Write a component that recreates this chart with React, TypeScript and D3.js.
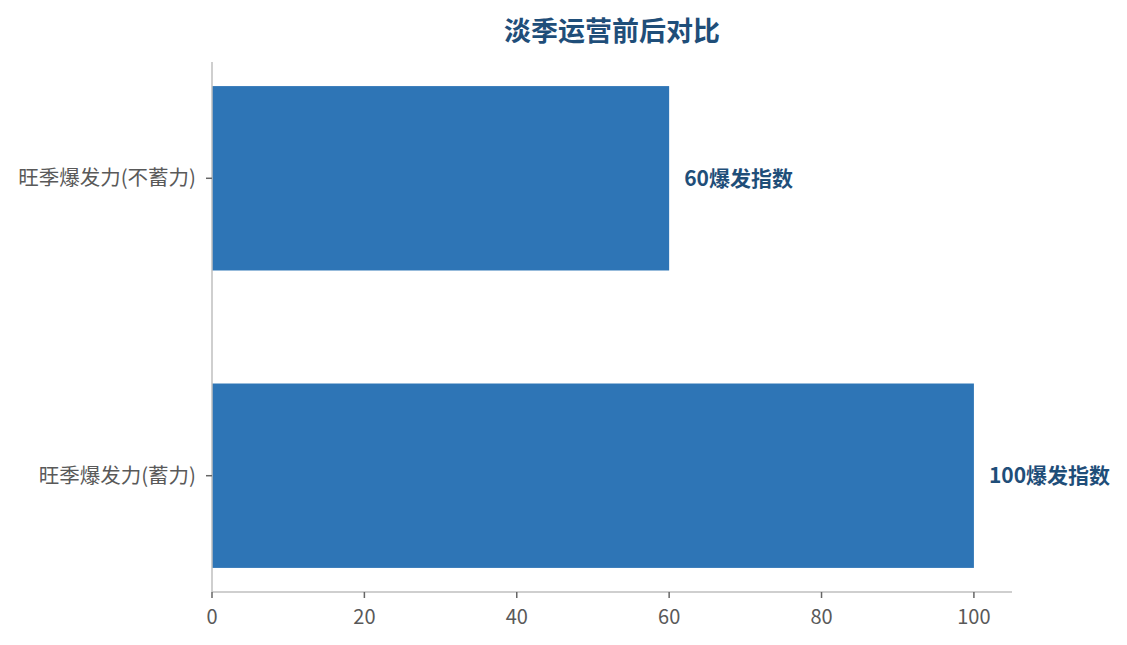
import React from 'react';
import * as d3 from 'd3';

const categories = ['旺季爆发力(不蓄力)', '旺季爆发力(蓄力)'];
const values = [60, 100];
const valueSuffix = '爆发指数';
const xTicks = [0, 20, 40, 60, 80, 100];
const title = '淡季运营前后对比';

const W = 1127;
const H = 645;
const margin = { top: 62, right: 115, bottom: 53, left: 212 };
const FONT = '"Noto Sans CJK SC", "Noto Sans", sans-serif';

const App: React.FC = () => {
  const innerW = W - margin.left - margin.right;
  const innerH = H - margin.top - margin.bottom;

  const x = d3.scaleLinear().domain([0, 105]).range([0, innerW]);
  const y = d3
    .scaleBand<string>()
    .domain(categories)
    .range([0, innerH])
    .paddingInner(0.38)
    .paddingOuter(0.081);

  return (
    <div style={{ position: 'fixed', left: 0, top: 0 }}>
      <svg width={W} height={H} style={{ display: 'block', background: '#fff' }}>
        <text
          x={margin.left + innerW / 2}
          y={41}
          textAnchor="middle"
          fontFamily={FONT}
          fontWeight="bold"
          fontSize={27}
          fill="#1f4e79"
        >
          {title}
        </text>
        <g transform={`translate(${margin.left},${margin.top})`}>
          {/* bars */}
          {categories.map((c, i) => (
            <rect
              key={c}
              x={x(0)}
              y={y(c)}
              width={x(values[i]) - x(0)}
              height={y.bandwidth()}
              fill="#2e75b6"
            />
          ))}
          {/* value labels */}
          {categories.map((c, i) => (
            <text
              key={`lbl-${c}`}
              x={x(values[i]) + 15}
              y={(y(c) ?? 0) + y.bandwidth() / 2}
              dy="0.35em"
              fontFamily={FONT}
              fontWeight="bold"
              fontSize={21}
              fill="#1f4e79"
            >
              {`${values[i]}${valueSuffix}`}
            </text>
          ))}
          {/* left axis */}
          <line x1={0} x2={0} y1={0} y2={innerH} stroke="#bfbfbf" strokeWidth={1.5} />
          {categories.map((c) => {
            const cy = (y(c) ?? 0) + y.bandwidth() / 2;
            return (
              <g key={`yt-${c}`} transform={`translate(0,${cy})`}>
                <line x1={-6} x2={0} stroke="#666" strokeWidth={1.5} />
                <text
                  x={-16}
                  dy="0.35em"
                  textAnchor="end"
                  fontFamily={FONT}
                  fontSize={20.5}
                  fill="#595959"
                >
                  {c}
                </text>
              </g>
            );
          })}
          {/* bottom axis */}
          <line x1={0} x2={innerW} y1={innerH} y2={innerH} stroke="#bfbfbf" strokeWidth={1.5} />
          {xTicks.map((t) => (
            <g key={`xt-${t}`} transform={`translate(${x(t)},${innerH})`}>
              <line y1={0} y2={6} stroke="#666" strokeWidth={1.5} />
              <text
                y={32}
                textAnchor="middle"
                fontFamily={FONT}
                fontSize={20}
                fill="#595959"
              >
                {t}
              </text>
            </g>
          ))}
        </g>
      </svg>
    </div>
  );
};

export default App;
